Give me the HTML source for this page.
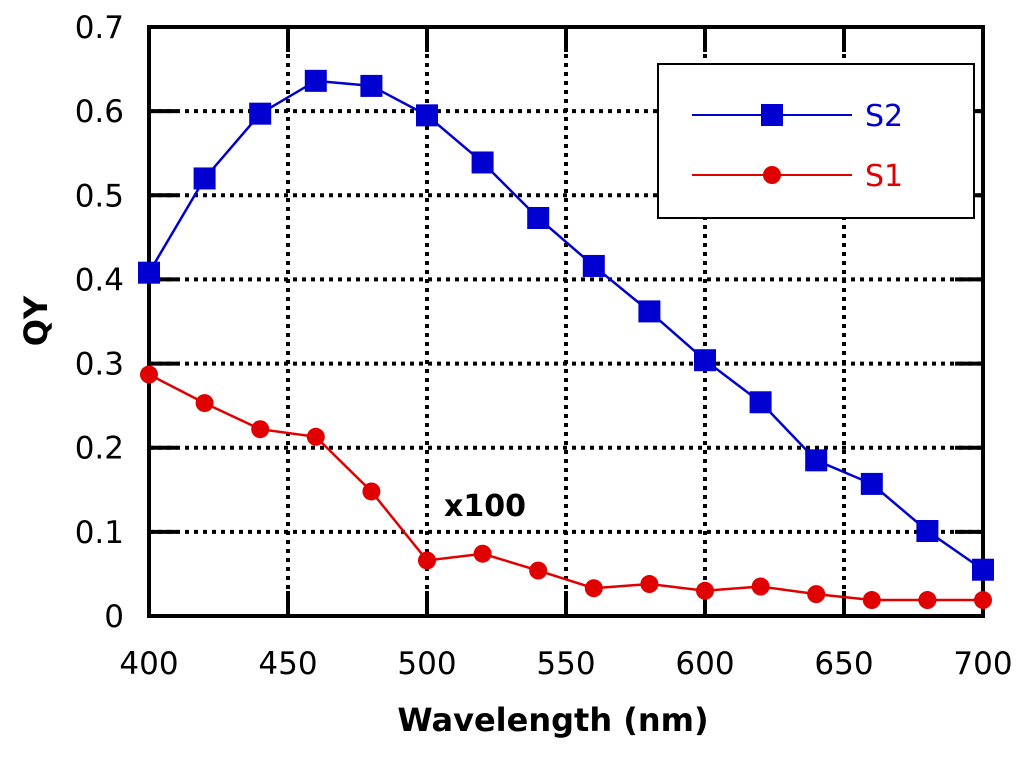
<!DOCTYPE html>
<html><head><meta charset="utf-8"><style>
html,body{margin:0;padding:0;background:#fff;}
svg{display:block;font-family:"DejaVu Sans","Liberation Sans",sans-serif;}
</style></head><body>
<svg id="chart" width="1024" height="760" viewBox="0 0 1024 760"></svg>
<script>
const xCats=[400,420,440,460,480,500,520,540,560,580,600,620,640,660,680,700];
const s2Vals=[0.408,0.52,0.597,0.636,0.630,0.595,0.539,0.473,0.416,0.362,0.304,0.254,0.185,0.157,0.101,0.055];
const s1Vals=[0.287,0.253,0.222,0.213,0.148,0.066,0.074,0.054,0.033,0.038,0.030,0.035,0.026,0.019,0.019,0.019];
const xTicks=[400,450,500,550,600,650,700];
const yTicks=[0,0.1,0.2,0.3,0.4,0.5,0.6,0.7];
const yTickLabels=["0","0.1","0.2","0.3","0.4","0.5","0.6","0.7"];

const L=149,R=983,T=27,B=616;
const sx=v=>L+(v-400)/300*(R-L);
const sy=v=>B-v/0.7*(B-T);
const NS="http://www.w3.org/2000/svg";
const svg=document.getElementById('chart');
function mk(tag,attrs,parent){const e=document.createElementNS(NS,tag);for(const k in attrs)e.setAttribute(k,attrs[k]);(parent||svg).appendChild(e);return e;}

const grid=mk('g',{});


xTicks.forEach(t=>{const x=sx(t);
  mk('line',{x1:x,y1:T,x2:x,y2:B,stroke:'#000','stroke-width':4,'stroke-dasharray':'4 5'},grid);
  mk('line',{x1:x,y1:B,x2:x,y2:B-25,stroke:'#000','stroke-width':4},grid);
  mk('line',{x1:x,y1:T,x2:x,y2:T+25,stroke:'#000','stroke-width':4},grid);
  const tl=mk('text',{x:x,y:674,'text-anchor':'middle','font-size':31,fill:'#000'});
  
  
  tl.textContent=t;
});
yTicks.forEach((t,i)=>{const y=sy(t);
  mk('line',{x1:L,y1:y,x2:R,y2:y,stroke:'#000','stroke-width':4,'stroke-dasharray':'4 5'},grid);
  mk('line',{x1:L,y1:y,x2:L+28,y2:y,stroke:'#000','stroke-width':4},grid);
  mk('line',{x1:R,y1:y,x2:R-28,y2:y,stroke:'#000','stroke-width':4},grid);
  const tl=mk('text',{x:124,y:y+11,'text-anchor':'end','font-size':31,fill:'#000'});
  
  
  tl.textContent=yTickLabels[i];
});
const frame=mk('rect',{x:L,y:T,width:R-L,height:B-T,fill:'none',stroke:'#000','stroke-width':4});



function series(vals,color,marker,name){
  const g=mk('g',{});
  
  
  mk('polyline',{points:vals.map((v,i)=>sx(xCats[i])+','+sy(v)).join(' '),fill:'none',stroke:color,'stroke-width':2.5},g);
  vals.forEach((v,i)=>{const x=sx(xCats[i]),y=sy(v);let m;
    if(marker==='sq')m=mk('rect',{x:x-11,y:y-11,width:22,height:22,fill:color},g);
    else m=mk('circle',{cx:x,cy:y,r:9,fill:color},g);
    
    
  });
}
series(s1Vals,'#e00000','c','series-s1');
series(s2Vals,'#0000d0','sq','series-s2');

const lg=mk('g',{});


mk('rect',{x:658,y:64,width:316,height:154,fill:'#fff',stroke:'#000','stroke-width':2},lg);
mk('line',{x1:692,y1:115,x2:852,y2:115,stroke:'#0000d0','stroke-width':2},lg);
mk('rect',{x:761,y:104,width:22,height:22,fill:'#0000d0'},lg);
const t2=mk('text',{x:865,y:126,'font-size':30,fill:'#0000d0'},lg);t2.textContent='S2';
mk('line',{x1:692,y1:175,x2:852,y2:175,stroke:'#e00000','stroke-width':2},lg);
mk('circle',{cx:772,cy:175,r:9,fill:'#e00000'},lg);
const t1=mk('text',{x:865,y:186,'font-size':30,fill:'#e00000'},lg);t1.textContent='S1';

const ann=mk('text',{x:485,y:516,'text-anchor':'middle','font-size':30,'font-weight':'bold',fill:'#000'});


ann.textContent='x100';
const xt=mk('text',{x:553,y:731,'text-anchor':'middle','font-size':32,'font-weight':'bold',fill:'#000'});


xt.textContent='Wavelength (nm)';
const yt=mk('text',{x:0,y:0,'text-anchor':'middle','font-size':32,'font-weight':'bold',fill:'#000',transform:'translate(47,321) rotate(-90)'});


yt.textContent='QY';
</script>
</body></html>
